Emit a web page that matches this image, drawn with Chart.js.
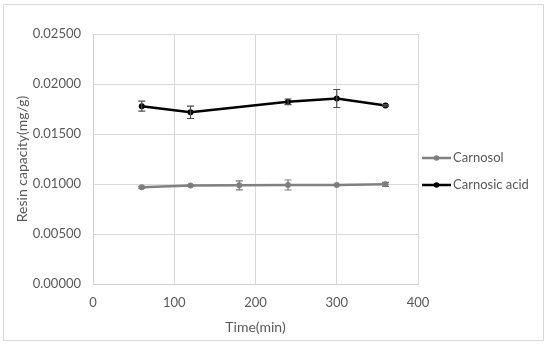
<!DOCTYPE html>
<html>
<head>
<meta charset="utf-8">
<script src="https://cdn.jsdelivr.net/npm/chart.js@4"></script>
<style>
  html, body { margin: 0; padding: 0; background: #fff; }
  #wrap { position: relative; width: 550px; height: 345px; }
  #frame { position: absolute; left: 3px; top: 4px; width: 539px; height: 335px; border: 1px solid #d9d9d9; box-sizing: content-box; pointer-events: none; }
</style>
</head>
<body>
<div id="wrap">
  <canvas id="c" width="550" height="345"></canvas>
  <div id="frame"></div>
</div>
<script>
// ---- data ----
const times = [60, 120, 180, 240, 300, 360];
const seriesNames = ["Carnosol", "Carnosic acid"];
const carnosol = [0.00967, 0.00985, 0.00987, 0.00990, 0.00990, 0.00997];
const carnosolErr = [0.00010, 0.00005, 0.00045, 0.00050, 0.00005, 0.00020];
const carnosicTimes = [60, 120, 240, 300, 360];
const carnosicAcid = [0.01778, 0.01717, 0.01822, 0.01855, 0.01785];
const carnosicErr = [0.00050, 0.00062, 0.00028, 0.00090, 0.00008];
const yTicks = [0, 0.005, 0.01, 0.015, 0.02, 0.025];
const xTicks = [0, 100, 200, 300, 400];

const FONT = "Lato, 'Open Sans', sans-serif";
const TXT = "#595959";
const colors = ["#808080", "#000000"];
const errColors = ["#7a7a7a", "#4d4d4d"];

const errorBars = {
  id: 'errorBars',
  afterDatasetsDraw(chart) {
    const ctx = chart.ctx, xs = chart.scales.x, ys = chart.scales.y;
    chart.data.datasets.forEach((ds, i) => {
      const errs = ds.errors;
      ctx.save();
      ctx.strokeStyle = errColors[i];
      ctx.lineWidth = 1.2;
      ds.data.forEach((p, j) => {
        const e = errs[j];
        const px = xs.getPixelForValue(p.x);
        const top = ys.getPixelForValue(p.y + e);
        const bot = ys.getPixelForValue(p.y - e);
        ctx.beginPath();
        ctx.moveTo(px, top); ctx.lineTo(px, bot);
        ctx.moveTo(px - 3.5, top); ctx.lineTo(px + 3.5, top);
        ctx.moveTo(px - 3.5, bot); ctx.lineTo(px + 3.5, bot);
        ctx.stroke();
      });
      ctx.restore();
    });
  }
};

const customLegend = {
  id: 'customLegend',
  afterDraw(chart) {
    const ctx = chart.ctx;
    const items = chart.data.datasets;
    const ys = [158, 185];
    ctx.save();
    items.forEach((ds, i) => {
      const y = ys[i];
      ctx.strokeStyle = colors[i];
      ctx.lineWidth = 2.5;
      ctx.beginPath();
      ctx.moveTo(422, y); ctx.lineTo(451, y);
      ctx.stroke();
      ctx.fillStyle = colors[i];
      ctx.beginPath();
      ctx.arc(436.5, y, 2.8, 0, Math.PI * 2);
      ctx.fill();
      ctx.fillStyle = TXT;
      ctx.font = "13px " + FONT;
      ctx.textBaseline = "middle";
      ctx.textAlign = "left";
      ctx.fillText(ds.label, 453, y);
    });
    ctx.restore();
  }
};

new Chart(document.getElementById('c'), {
  type: 'line',
  data: {
    datasets: [
      {
        label: seriesNames[0],
        data: times.map((t, i) => ({ x: t, y: carnosol[i] })),
        errors: carnosolErr,
        borderColor: colors[0], backgroundColor: colors[0],
        borderWidth: 2.5, pointRadius: 3, pointBorderWidth: 0,
        tension: 0
      },
      {
        label: seriesNames[1],
        data: carnosicTimes.map((t, i) => ({ x: t, y: carnosicAcid[i] })),
        errors: carnosicErr,
        borderColor: colors[1], backgroundColor: colors[1],
        borderWidth: 2.5, pointRadius: 3, pointBorderWidth: 0,
        tension: 0
      }
    ]
  },
  options: {
    responsive: false,
    animation: false,
    devicePixelRatio: 1,
    layout: { padding: { top: 34, right: 132, left: 6, bottom: 8 } },
    plugins: { legend: { display: false }, tooltip: { enabled: false } },
    scales: {
      x: {
        type: 'linear', min: 0, max: 400,
        afterBuildTicks: s => { s.ticks = xTicks.map(v => ({ value: v })); },
        afterFit: s => { s.height = 345 - 284 - 8; },
        grid: { color: '#d9d9d9', drawTicks: false, lineWidth: 1 },
        border: { color: '#d0d0d0' },
        ticks: { color: TXT, font: { family: FONT, size: 13 }, padding: 11 },
        title: { display: true, text: 'Time(min)', color: TXT, font: { family: FONT, size: 14 }, padding: { top: 2, bottom: 1 } }
      },
      y: {
        type: 'linear', min: 0, max: 0.025,
        afterBuildTicks: s => { s.ticks = yTicks.map(v => ({ value: v })); },
        afterFit: s => { s.width = 93 - 6; },
        grid: { color: '#d9d9d9', drawTicks: false, lineWidth: 1 },
        border: { color: '#d0d0d0' },
        ticks: { color: TXT, font: { family: FONT, size: 13 }, padding: 12, callback: v => Number(v).toFixed(5) },
        title: { display: true, text: 'Resin capacity(mg/g)', color: TXT, font: { family: FONT, size: 14 }, padding: { top: 8, bottom: 0 } }
      }
    }
  },
  plugins: [errorBars, customLegend]
});
</script>
</body>
</html>
